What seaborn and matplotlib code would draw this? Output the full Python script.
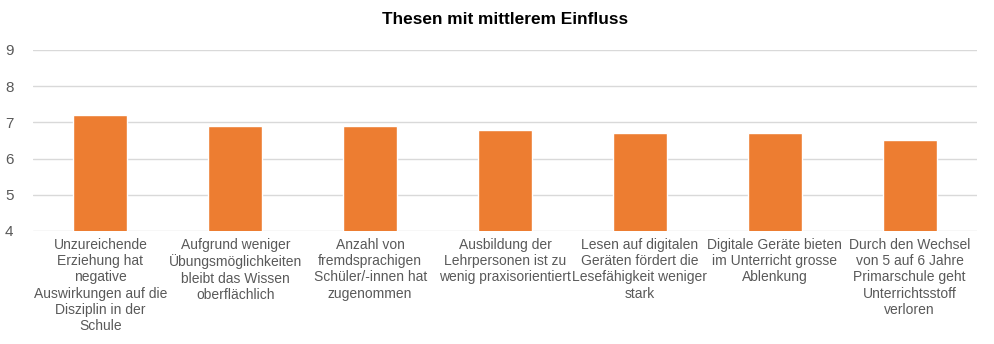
import matplotlib
matplotlib.use("Agg")
import matplotlib.pyplot as plt
import seaborn as sns
import pandas as pd

categories = [
    "Unzureichende\nErziehung hat\nnegative\nAuswirkungen auf die\nDisziplin in der\nSchule",
    "Aufgrund weniger\nÜbungsmöglichkeiten\nbleibt das Wissen\noberflächlich",
    "Anzahl von\nfremdsprachigen\nSchüler/-innen hat\nzugenommen",
    "Ausbildung der\nLehrpersonen ist zu\nwenig praxisorientiert",
    "Lesen auf digitalen\nGeräten fördert die\nLesefähigkeit weniger\nstark",
    "Digitale Geräte bieten\nim Unterricht grosse\nAblenkung",
    "Durch den Wechsel\nvon 5 auf 6 Jahre\nPrimarschule geht\nUnterrichtsstoff\nverloren",
]
values = [7.2, 6.9, 6.9, 6.8, 6.7, 6.7, 6.5]
yticks = [4, 5, 6, 7, 8, 9]
title = "Thesen mit mittlerem Einfluss"

sns.set_theme(style="white")
plt.rcParams["font.family"] = ["Liberation Sans", "DejaVu Sans"]

df = pd.DataFrame({"cat": categories, "val": values})

fig = plt.figure(figsize=(9.94, 3.44), dpi=100)
ax = fig.add_axes([0.0332, 0.3285, 0.9498, 0.5262])
sns.barplot(data=df, x="cat", y="val", color="#ED7D31", width=0.4,
            saturation=1, ax=ax, zorder=3)
ax.set_ylim(4, 9)
ax.set_yticks(yticks)
ax.set_yticklabels([str(t) for t in yticks])
ax.grid(axis="y", color="#d9d9d9", linewidth=1, zorder=0)
ax.set_axisbelow(True)
for s in ax.spines.values():
    s.set_visible(False)
ax.set_xlabel("")
ax.set_ylabel("")
ax.tick_params(axis="both", length=0, colors="#595959", labelsize=10)
ax.tick_params(axis="y", labelsize=11, pad=14)
ax.tick_params(axis="x", pad=5)
for lab in ax.get_xticklabels():
    lab.set_linespacing(1.2)
ax.set_title(title, fontsize=12.4, fontweight="bold", color="black", pad=19)
fig.savefig("out.png", dpi=100)
